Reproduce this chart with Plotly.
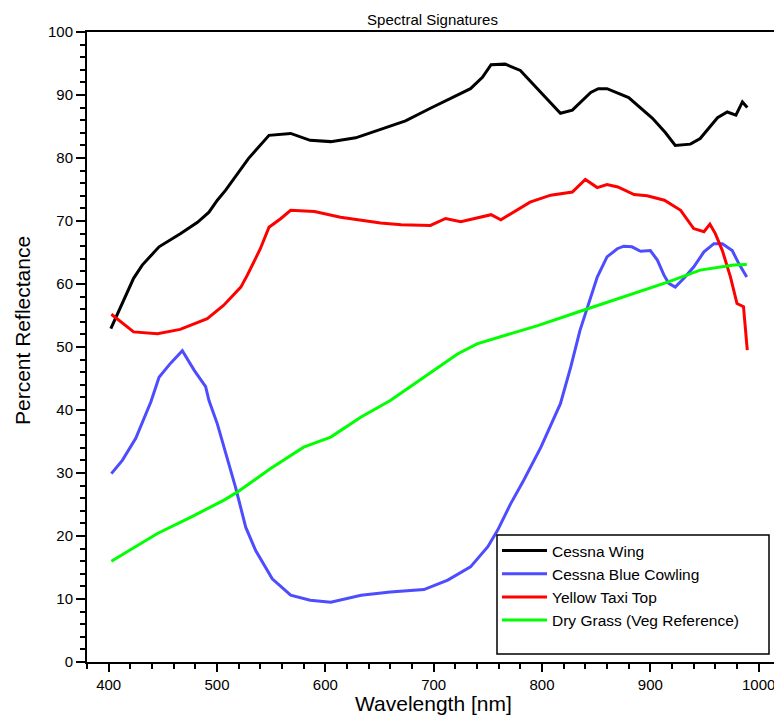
import plotly.graph_objects as go

# Cessna Wing
wing_wl = [402, 412.6, 423, 431, 446.5, 466.5, 482, 492.6, 500.3, 508, 529, 548, 568, 586, 605,
           628, 651, 674, 697, 716, 734, 745, 753, 766, 780, 799, 817, 828, 845, 852, 860,
           880, 902, 914, 923, 937, 946, 962, 971, 979, 985, 989.5]
wing_val = [52.9, 56.9, 60.9, 63.0, 65.9, 68.0, 69.8, 71.4, 73.3, 74.9, 79.9, 83.6, 83.9, 82.8, 82.6,
            83.2, 84.6, 85.9, 87.9, 89.5, 91.0, 92.8, 94.8, 94.9, 93.9, 90.4, 87.1, 87.6, 90.4, 91.0, 91.0,
            89.6, 86.3, 84.0, 82.0, 82.2, 83.1, 86.4, 87.3, 86.8, 88.9, 88.0]

# Cessna Blue Cowling
cowl_wl = [402.5, 412.6, 425, 429.5, 439, 446.5, 457, 468, 479, 489.5, 492.6, 500.3, 509.5, 517,
           526.5, 535.7, 551, 568, 586, 605, 633, 660, 691, 713, 734, 750, 759, 771, 783, 799,
           817, 826.5, 835, 845, 851, 860, 869.5, 875.5, 883, 891, 900, 906.5, 912.6, 917, 923,
           931, 940, 949.5, 958.7, 966.5, 975.6, 981.8, 989]
cowl_val = [29.9, 32.0, 35.5, 37.3, 41.3, 45.2, 47.4, 49.4, 46.3, 43.7, 41.5, 37.8, 32.5, 27.8,
            21.4, 17.7, 13.2, 10.6, 9.8, 9.5, 10.6, 11.1, 11.5, 13.0, 15.1, 18.3, 20.9, 25.1, 28.8, 34.1,
            41.0, 46.8, 52.6, 57.9, 61.1, 64.3, 65.6, 66.0, 65.9, 65.2, 65.3, 63.8, 61.4, 60.1, 59.5,
            60.9, 62.7, 65.1, 66.4, 66.4, 65.3, 63.2, 61.1]

# Yellow Taxi Top
taxi_wl = [402.5, 412, 423, 445, 466, 491, 506, 522, 528, 540, 548, 559, 568, 590, 614, 651, 670,
           697, 711, 725, 753, 762, 789, 808, 828, 840, 851, 860, 870, 885, 897, 913, 928, 940,
           949.5, 955, 960, 966.5, 974, 980, 986, 989.5]
taxi_val = [55.2, 53.9, 52.4, 52.1, 52.8, 54.5, 56.6, 59.5, 61.4, 65.6, 69.0, 70.4, 71.7, 71.5, 70.6, 69.7, 69.4,
            69.3, 70.4, 69.9, 71.0, 70.2, 73.0, 74.1, 74.6, 76.6, 75.3, 75.8, 75.4, 74.2, 74.0, 73.3, 71.7, 68.8,
            68.3, 69.5, 68.0, 65.3, 61.1, 56.9, 56.4, 49.5]

# Dry Grass (vegetation reference)
grass_wl = [402.5, 445, 476, 506.5, 519, 549.5, 580, 605, 633, 660, 691, 722, 740, 762, 796, 834,
            916, 946, 977, 989]
grass_val = [16.0, 20.4, 23.0, 25.7, 27.0, 30.7, 34.1, 35.7, 38.9, 41.5, 45.2, 48.9, 50.5, 51.6, 53.4, 55.6,
             60.3, 62.2, 63.0, 63.1]

series = [
    ("Cessna Wing", wing_wl, wing_val, "#000000"),
    ("Cessna Blue Cowling", cowl_wl, cowl_val, "#4D4DFF"),
    ("Yellow Taxi Top", taxi_wl, taxi_val, "#FF0000"),
    ("Dry Grass (Veg Reference)", grass_wl, grass_val, "#00FF00"),
]

FONT = "Arial, Liberation Sans, sans-serif"

fig = go.Figure()
for name, wl, val, color in series:
    fig.add_trace(go.Scatter(x=wl, y=val, mode="lines", name=name,
                             line=dict(color=color, width=3)))

W, H = 774, 717
L, R, T, B = 87, 0, 32, 55
pw, ph = W - L - R, H - T - B
x_min = 380
x_max = x_min + pw / 1.08333


def px_x(p):
    return (p - L) / pw


def px_y(p):
    return (H - B - p) / ph


axis_common = dict(
    showline=True, linecolor="black", linewidth=2,
    ticks="outside", tickcolor="black", tickwidth=1.5,
    showgrid=False, zeroline=False, ticklabeloverflow="allow",
    tickfont=dict(family=FONT, size=15, color="black"),
)

fig.update_xaxes(range=[x_min, x_max], tick0=0, dtick=100, ticklen=8, mirror=True,
                 minor=dict(tick0=0, dtick=20, ticklen=5, ticks="outside",
                            tickcolor="black", tickwidth=1.5),
                 **axis_common)
fig.update_yaxes(range=[0, 100], tick0=0, dtick=10, ticklen=9,
                 minor=dict(tick0=0, dtick=2, ticklen=5, ticks="outside",
                            tickcolor="black", tickwidth=1.5),
                 **axis_common)

# legend frame
fig.add_shape(type="rect", xref="paper", yref="paper",
              x0=px_x(497), x1=px_x(769), y0=px_y(654), y1=px_y(535),
              line=dict(color="black", width=1.5), fillcolor="white", layer="above")

fig.add_annotation(text="Percent Reflectance", xref="paper", yref="paper",
                   x=px_x(22), y=px_y(331), textangle=-90, showarrow=False,
                   xanchor="center", yanchor="middle",
                   font=dict(family=FONT, size=21, color="black"))
fig.add_annotation(text="Wavelength [nm]", xref="paper", yref="paper",
                   x=px_x(433), y=px_y(703), showarrow=False,
                   xanchor="center", yanchor="middle",
                   font=dict(family=FONT, size=21, color="black"))

fig.update_layout(
    width=W, height=H,
    margin=dict(l=L, r=R, t=T, b=B),
    paper_bgcolor="white", plot_bgcolor="white",
    title=dict(text="Spectral Signatures", x=432.5 / W, xref="container", xanchor="center",
               y=1 - 20 / H, yref="container", yanchor="middle",
               font=dict(family=FONT, size=15, color="black")),
    legend=dict(x=px_x(497), y=px_y(534), xanchor="left", yanchor="top",
                bgcolor="rgba(0,0,0,0)", borderwidth=0, itemwidth=45,
                font=dict(family=FONT, size=15.5, color="black")),
    showlegend=True,
)

fig.write_html("out.html")
